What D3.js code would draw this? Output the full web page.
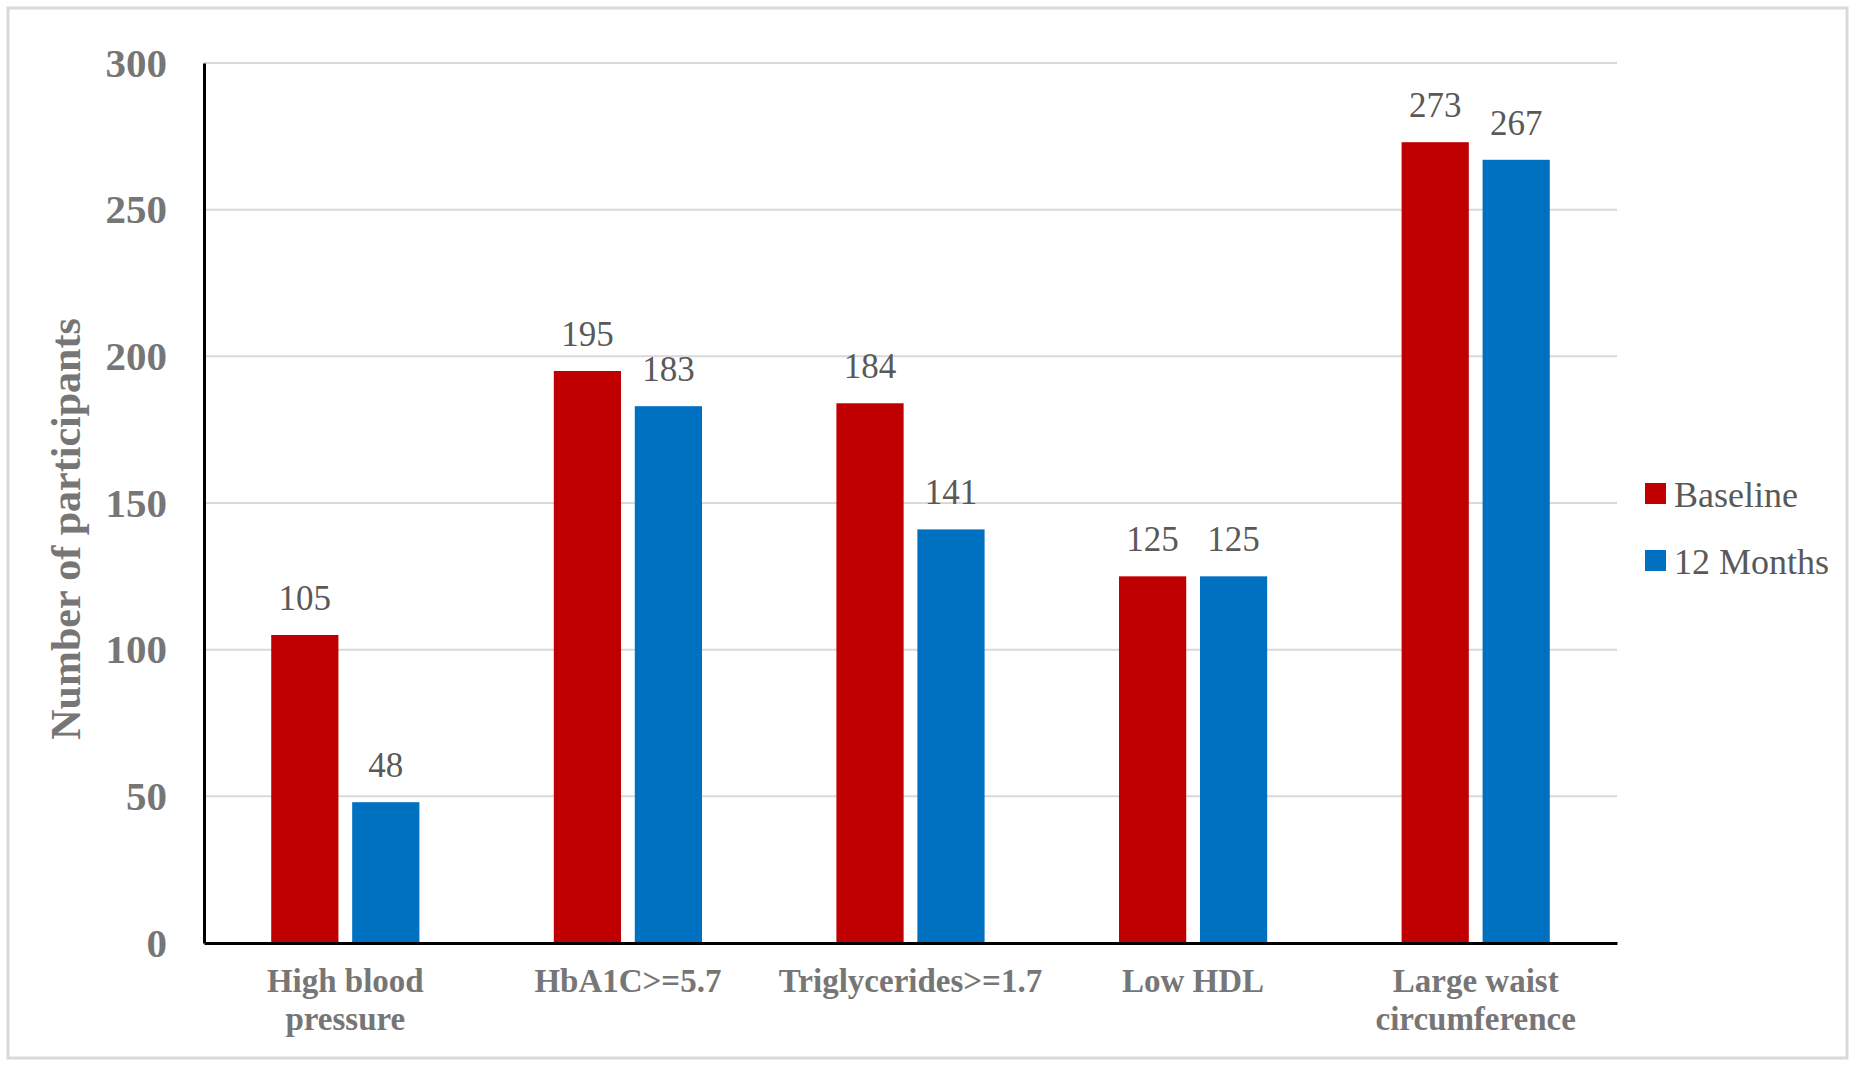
<!DOCTYPE html>
<html>
<head>
<meta charset="utf-8">
<script src="https://cdn.jsdelivr.net/npm/d3@7"></script>
<style>
  body { margin: 0; background: #fff; }
  text { font-family: "Liberation Serif", "Times New Roman", serif; }
</style>
</head>
<body>
<div id="chart"></div>
<script>
var categories = [["High blood", "pressure"], ["HbA1C>=5.7"], ["Triglycerides>=1.7"], ["Low HDL"], ["Large waist", "circumference"]],
    seriesNames = ["Baseline", "12 Months"],
    baseline = [105, 195, 184, 125, 273],
    months12 = [48, 183, 141, 125, 267],
    yTicks = [0, 50, 100, 150, 200, 250, 300];

var colors = ["#c00000", "#0070c0"];

var width = 1856,
    height = 1068,
    margin = {top: 63, right: 239, bottom: 125, left: 204},
    pw = width - margin.left - margin.right,
    ph = height - margin.top - margin.bottom;

var svg = d3.select("#chart").append("svg")
    .attr("width", width)
    .attr("height", height);

// outer frame
svg.append("rect")
    .attr("x", 8).attr("y", 8)
    .attr("width", 1839).attr("height", 1050)
    .attr("fill", "#fff")
    .attr("stroke", "#d9d9d9")
    .attr("stroke-width", 3);

var g = svg.append("g").attr("transform", "translate(" + margin.left + "," + margin.top + ")");

var x0 = d3.scaleBand().domain(d3.range(categories.length)).range([0, pw]),
    x1 = d3.scaleBand().domain([0, 1]).range([0, x0.bandwidth()]).paddingInner(0.17).paddingOuter(0.83),
    y = d3.scaleLinear().domain([0, 300]).range([ph, 0]);

// gridlines
g.selectAll(".grid")
    .data(yTicks.slice(1))
    .enter().append("line")
      .attr("x1", 0).attr("x2", pw)
      .attr("y1", function(d) { return y(d); })
      .attr("y2", function(d) { return y(d); })
      .attr("stroke", "#d9d9d9")
      .attr("stroke-width", 2);

var data = [];
baseline.forEach(function(v, i) {
  data.push({c: i, s: 0, v: v});
  data.push({c: i, s: 1, v: months12[i]});
});

g.selectAll(".bar")
    .data(data)
    .enter().append("rect")
      .attr("class", "bar")
      .attr("x", function(d) { return x0(d.c) + x1(d.s); })
      .attr("y", function(d) { return y(d.v); })
      .attr("width", x1.bandwidth())
      .attr("height", function(d) { return ph - y(d.v); })
      .attr("fill", function(d) { return colors[d.s]; });

g.selectAll(".lbl")
    .data(data)
    .enter().append("text")
      .attr("x", function(d) { return x0(d.c) + x1(d.s) + x1.bandwidth() / 2; })
      .attr("y", function(d) { return y(d.v) - 25; })
      .attr("text-anchor", "middle")
      .attr("font-size", 35)
      .attr("fill", "#595959")
      .text(function(d) { return d.v; });

// y axis
var yAxis = g.append("g")
    .call(d3.axisLeft(y).tickValues(yTicks).tickSize(0).tickPadding(37));
yAxis.select(".domain").attr("stroke", "#000").attr("stroke-width", 3);
yAxis.selectAll("text")
    .attr("font-size", 41)
    .attr("font-weight", "bold")
    .attr("fill", "#767676")
    .attr("font-family", "Liberation Serif");

// x axis
var xAxis = g.append("g")
    .attr("transform", "translate(0," + ph + ")")
    .call(d3.axisBottom(x0).tickSize(0).tickFormat(""));
xAxis.select(".domain").attr("stroke", "#000").attr("stroke-width", 3);

g.selectAll(".cat")
    .data(categories)
    .enter().append("text")
      .attr("class", "cat")
      .attr("x", function(d, i) { return x0(i) + x0.bandwidth() / 2; })
      .attr("y", ph + 49)
      .attr("text-anchor", "middle")
      .attr("font-size", 33)
      .attr("font-weight", "bold")
      .attr("fill", "#767676")
    .selectAll("tspan")
    .data(function(d) { return d; })
    .enter().append("tspan")
      .attr("x", function() { return d3.select(this.parentNode).attr("x"); })
      .attr("dy", function(d, i) { return i ? 38 : 0; })
      .text(function(d) { return d; });

// y title
svg.append("text")
    .attr("transform", "translate(80,529) rotate(-90)")
    .attr("text-anchor", "middle")
    .attr("font-size", 42)
    .attr("font-weight", "bold")
    .attr("fill", "#767676")
    .text("Number of participants");

// legend
var leg = svg.selectAll(".leg")
    .data(seriesNames)
    .enter().append("g")
      .attr("transform", function(d, i) { return "translate(1645," + (483 + i * 67) + ")"; });
leg.append("rect")
    .attr("width", 21).attr("height", 21)
    .attr("fill", function(d, i) { return colors[i]; });
leg.append("text")
    .attr("x", 29).attr("y", 11)
    .attr("dy", "0.35em")
    .attr("font-size", 36)
    .attr("fill", "#595959")
    .text(function(d) { return d; });
</script>
</body>
</html>
